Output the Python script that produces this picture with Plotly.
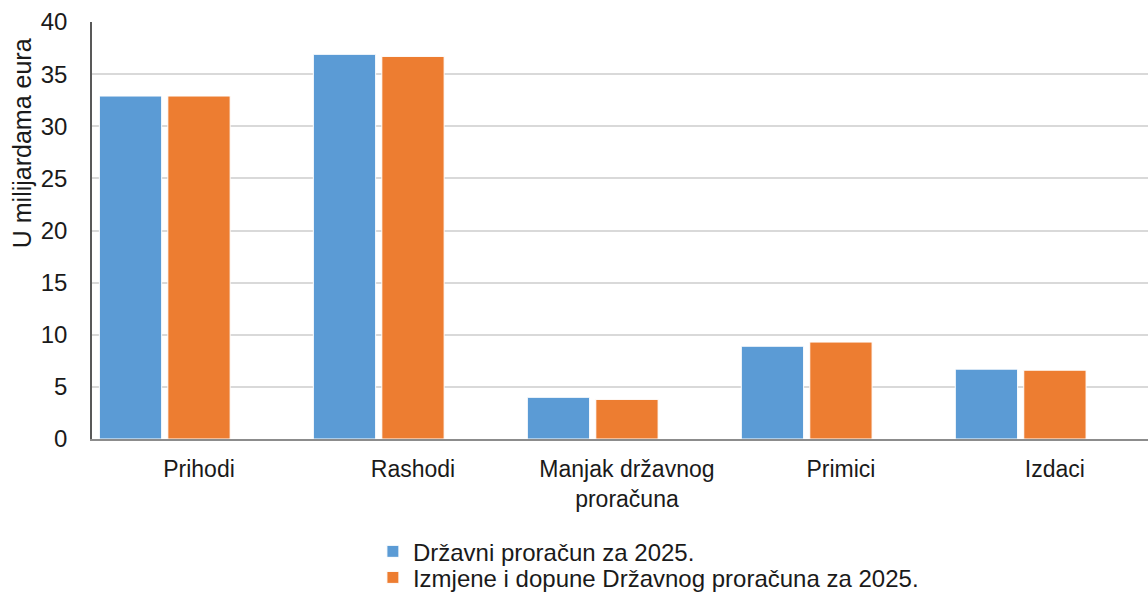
import plotly.graph_objects as go

categories = ["Prihodi", "Rashodi", "Manjak državnog<br>proračuna", "Primici", "Izdaci"]
proracun_2025 = [32.9, 36.9, 4.0, 8.9, 6.7]
izmjene_2025 = [32.9, 36.7, 3.8, 9.3, 6.6]
# third series is empty in the source chart, but it still takes its slot in each group
prazno = [None, None, None, None, None]

y_ticks = [0, 5, 10, 15, 20, 25, 30, 35, 40]

FONT = "Liberation Sans, Arial, sans-serif"
TEXT = "#1a1a1a"

fig = go.Figure()
fig.add_trace(
    go.Bar(
        x=categories,
        y=proracun_2025,
        name="Državni proračun za 2025.",
        legend="legend",
        marker=dict(color="#5b9bd5", line=dict(color="white", width=1)),
    )
)
fig.add_trace(
    go.Bar(
        x=categories,
        y=izmjene_2025,
        name="Izmjene i dopune Državnog proračuna za 2025.",
        legend="legend2",
        marker=dict(color="#ed7d31", line=dict(color="white", width=1)),
    )
)
fig.add_trace(
    go.Bar(x=categories, y=prazno, name="", showlegend=False, hoverinfo="skip")
)

legend_style = dict(
    orientation="v",
    x=0.266,
    xanchor="left",
    yref="container",
    yanchor="middle",
    font=dict(size=24, color=TEXT),
    itemwidth=30,
    bgcolor="rgba(0,0,0,0)",
)

fig.update_layout(
    width=1148,
    height=592,
    margin=dict(l=92, r=0, t=22, b=153),
    paper_bgcolor="white",
    plot_bgcolor="white",
    barmode="group",
    bargap=0.04,
    bargroupgap=0.09,
    font=dict(family=FONT, size=22, color=TEXT),
    showlegend=True,
    legend=dict(legend_style, y=0.068),
    legend2=dict(legend_style, y=0.024),
    annotations=[
        dict(
            text="U milijardama eura",
            textangle=-90,
            xref="paper",
            yref="paper",
            x=-0.066,
            y=0.71,
            xanchor="center",
            yanchor="middle",
            showarrow=False,
            font=dict(size=25, color=TEXT),
        )
    ],
)
fig.update_xaxes(
    type="category",
    range=[-0.5, 4.435],
    showgrid=False,
    showline=True,
    linecolor="#8c8c8c",
    linewidth=2,
    ticks="",
    ticklabelstandoff=8,
    tickfont=dict(size=23, color=TEXT),
)
fig.update_yaxes(
    range=[0, 40],
    tickvals=y_ticks,
    showgrid=True,
    gridcolor="#d9d9d9",
    gridwidth=2,
    zeroline=False,
    showline=True,
    linecolor="#595959",
    linewidth=1.5,
    ticks="",
    ticklabelstandoff=18,
    tickfont=dict(size=24, color=TEXT),
)

# drop the browser's default body margin so the figure sits at the page corner
fig.write_html(
    "out.html",
    config={"displayModeBar": False},
    post_script="document.body.style.margin='0';document.body.style.overflow='hidden';",
)
